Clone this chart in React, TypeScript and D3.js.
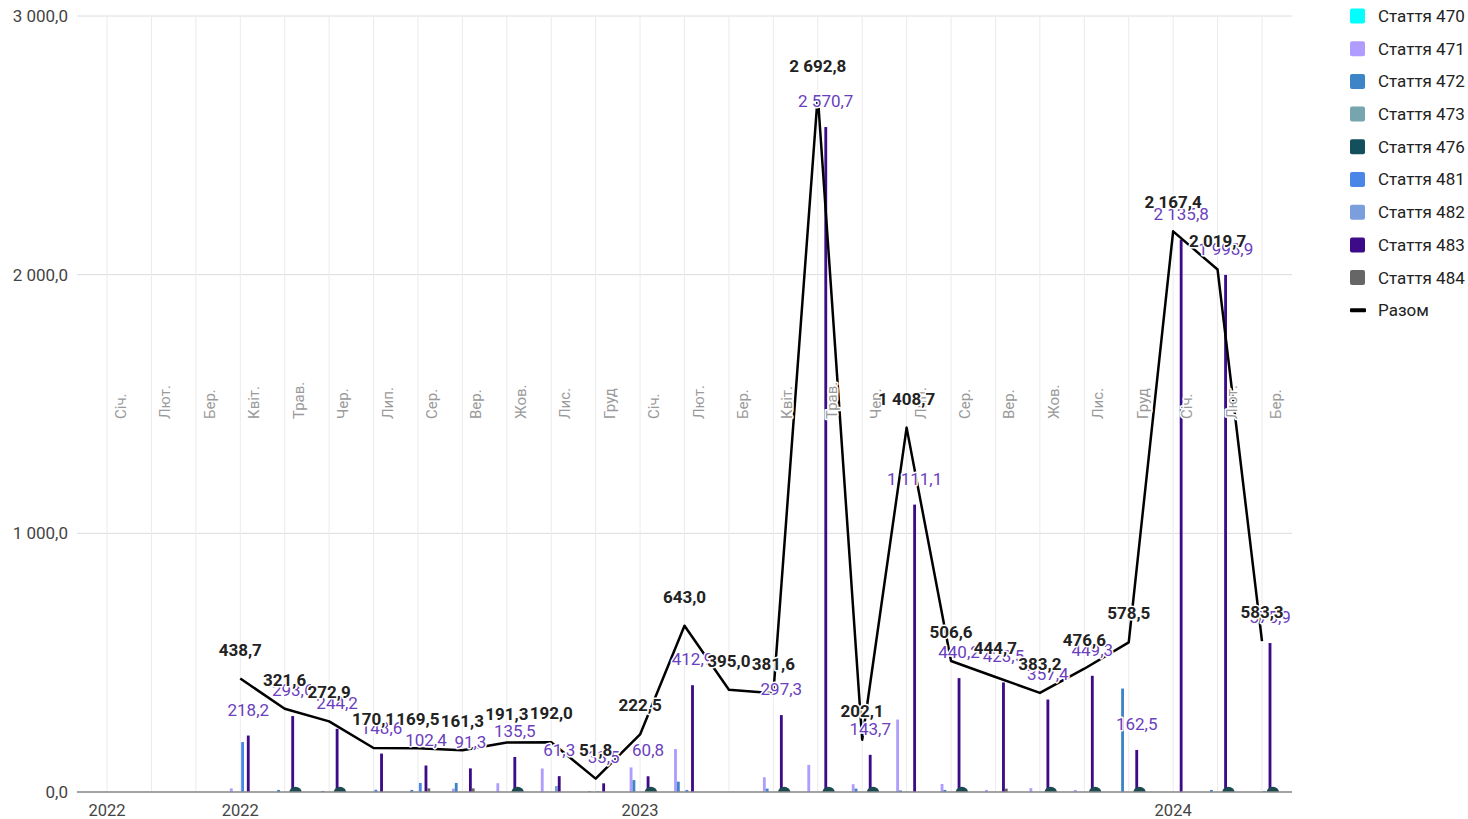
import * as d3 from "d3";

const W = 1468;
const H = 819;

// months on the annotation lines, Jan 2022 .. Mar 2024
const MONTH_LABELS = [
  "Січ.", "Лют.", "Бер.", "Квіт.", "Трав.", "Чер.", "Лип.", "Сер.", "Вер.", "Жов.", "Лис.", "Груд",
  "Січ.", "Лют.", "Бер.", "Квіт.", "Трав.", "Чер.", "Лип.", "Сер.", "Вер.", "Жов.", "Лис.", "Груд",
  "Січ.", "Лют.", "Бер.",
];
const YEAR_TICK_INDEX = [0, 3, 12, 24];
const YEAR_TICK_LABELS = ["2022", "2022", "2023", "2024"];
const Y_TICKS = [0, 1000, 2000, 3000];

// data runs Apr 2022 .. Mar 2024
const FIRST_DATA_MONTH = 3;

const total = [
  438.7, 321.6, 272.9, 170.1, 169.5, 161.3, 191.3, 192.0, 51.8, 222.5, 643.0, 395.0,
  381.6, 2692.8, 202.1, 1408.7, 506.6, 444.7, 383.2, 476.6, 578.5, 2167.4, 2019.7, 583.3,
];
const s470 = [0, 0, 0, 0, 0, 0, 0, 0, 0, 0, 0, null, 0, 0, 0, 0, 0, 0, 0, 0, 0, 0, 0, 0];
const s471 = [14, 0, 0, 0, 0, 13, 34, 91, 0, 95, 166, null, 57, 105, 30, 280, 31, 8, 15, 8, 0, 0, 0, 0];
const s472 = [0, 8, 4, 0, 8, 35, 0, 0, 3, 46, 40, null, 13, 0, 13, 6, 8, 0, 0, 0, 400, 0, 8, 0];
const s473 = [0, 0, 0, 0, 0, 0, 0, 0, 0, 0, 0, null, 0, 0, 0, 0, 0, 0, 0, 0, 0, 0, 0, 0];
const s476 = [0, 20, 24, 0, 0, 0, 22, 0, 0, 23, 0, null, 14, 17, 15, 0, 28, 0, 12, 17, 16, 0, 13, 3];
const s481 = [193, 0, 0, 9, 35, 0, 0, 0, 3, 0, 8, null, 0, 0, 0, 0, 0, 0, 0, 0, 0, 0, 0, 4];
const s482 = [0, 0, 0, 0, 0, 0, 0, 23, 0, 0, 0, null, 0, 0, 0, 0, 0, 0, 0, 0, 0, 0, 0, 0];
const s483 = [
  218.2, 293.6, 244.2, 148.6, 102.4, 91.3, 135.5, 61.3, 33.5, 60.8, 412.9, null,
  297.3, 2570.7, 143.7, 1111.1, 440.2, 423.5, 357.4, 449.3, 162.5, 2135.8, 1998.9, 575.9,
];
const s484 = [0, 0, 0, 0, 14, 14, 0, 0, 0, 0, 0, null, 0, 0, 0, 0, 0, 13, 0, 0, 0, 0, 0, 0];

const SERIES_NAMES = [
  "Стаття 470", "Стаття 471", "Стаття 472", "Стаття 473", "Стаття 476",
  "Стаття 481", "Стаття 482", "Стаття 483", "Стаття 484",
];
const SERIES_COLORS = [
  "#00ffff", "#b09cff", "#3d85c6", "#76a5af", "#134f5c",
  "#4a86e8", "#7b9fdc", "#3d0b87", "#666666",
];
const BAR_SERIES = [s470, s471, s472, s473, null, s481, s482, s483, s484];

const fmt = d3.formatLocale({ decimal: ",", thousands: " ", grouping: [3], currency: ["", ""] }).format(",.1f");
const FONT = "Roboto, sans-serif";

const left = 77;
const right = 1292;
const top = 16;
const bottom = 792;

export default function App() {
  const x = d3.scaleLinear().domain([0, MONTH_LABELS.length - 1]).range([107, 1262]);
  const y = d3.scaleLinear().domain([0, 3000]).range([bottom, top]);
  const slot = d3
    .scaleBand<number>()
    .domain(d3.range(SERIES_NAMES.length))
    .range([-13.25, 12.25])
    .padding(0);
  const bw = slot.bandwidth();
  const sx = (k: number) => (slot(k) ?? 0) + bw / 2;

  const line = d3
    .line<number>()
    .x((_, i) => x(i + FIRST_DATA_MONTH))
    .y((d) => y(d));

  // google-style white halo round annotation text
  const aura = {
    stroke: "#fff",
    strokeWidth: 3,
    strokeLinejoin: "round" as const,
    paintOrder: "stroke",
  };

  return (
    <svg
      width={W}
      height={H}
      style={{ position: "absolute", left: 0, top: 0, display: "block", background: "#fff" }}
      fontFamily={FONT}
    >
      <defs>
        <clipPath id="plot">
          <rect x={left} y={0} width={right - left} height={bottom} />
        </clipPath>
      </defs>

      {Y_TICKS.map((t) => (
        <line key={t} x1={left} x2={right} y1={y(t)} y2={y(t)} stroke="#dcdcdc" strokeWidth={1} />
      ))}
      {MONTH_LABELS.map((_, i) => (
        <line key={i} x1={x(i)} x2={x(i)} y1={top} y2={bottom} stroke="#ebebeb" strokeWidth={1} />
      ))}

      {BAR_SERIES.map((arr, k) =>
        arr
          ? arr.map((v, i) =>
              v && v > 0 ? (
                <rect
                  key={`${k}-${i}`}
                  x={x(i + FIRST_DATA_MONTH) + sx(k) - bw / 2}
                  y={y(v)}
                  width={bw}
                  height={y(0) - y(v)}
                  fill={SERIES_COLORS[k]}
                />
              ) : null,
            )
          : null,
      )}

      <g clipPath="url(#plot)">
        {s476.map((v, i) =>
          v && v > 0 ? (
            <circle key={i} cx={x(i + FIRST_DATA_MONTH) + sx(8)} cy={y(0) + 1} r={6.3} fill="#1b4a50" />
          ) : null,
        )}
      </g>

      <line x1={left} x2={right} y1={bottom} y2={bottom} stroke="#8a8a8a" strokeWidth={1.5} />

      <path d={line(total) ?? ""} fill="none" stroke="#000" strokeWidth={2.5} strokeLinejoin="round" />

      {MONTH_LABELS.map((m, i) => (
        <text
          key={i}
          transform={`translate(${x(i) + 19},419) rotate(-90)`}
          fontSize={15}
          fill="#9a9a9a"
          style={aura}
        >
          {m}
        </text>
      ))}

      {s483.map((v, i) =>
        v != null ? (
          <text
            key={i}
            x={x(i + FIRST_DATA_MONTH) + sx(7)}
            y={y(v) - 20}
            textAnchor="middle"
            fontSize={17}
            fill="#6a40bd"
            style={aura}
          >
            {fmt(v)}
          </text>
        ) : null,
      )}

      {total.map((v, i) => (
        <text
          key={i}
          x={x(i + FIRST_DATA_MONTH)}
          y={y(v) - 23}
          textAnchor="middle"
          fontSize={17}
          fontWeight="bold"
          fill="#222"
          style={aura}
        >
          {fmt(v)}
        </text>
      ))}

      {Y_TICKS.map((t) => (
        <text key={t} x={68} y={y(t)} dy="0.35em" textAnchor="end" fontSize={17} fill="#444">
          {fmt(t)}
        </text>
      ))}
      {YEAR_TICK_INDEX.map((idx, j) => (
        <text key={j} x={x(idx)} y={816} textAnchor="middle" fontSize={16.5} fill="#444">
          {YEAR_TICK_LABELS[j]}
        </text>
      ))}

      {SERIES_NAMES.map((name, k) => (
        <g key={name} transform={`translate(1350,${16 + k * 32.7})`}>
          <rect x={0} y={-7.5} width={15} height={15} rx={2} fill={SERIES_COLORS[k]} />
          <text x={28} dy="0.35em" fontSize={17} fill="#222">
            {name}
          </text>
        </g>
      ))}
      <g transform={`translate(1350,${16 + 9 * 32.7})`}>
        <rect x={0} y={-2} width={16} height={4} rx={1} fill="#000" />
        <text x={28} dy="0.35em" fontSize={17} fill="#222">
          Разом
        </text>
      </g>
    </svg>
  );
}
